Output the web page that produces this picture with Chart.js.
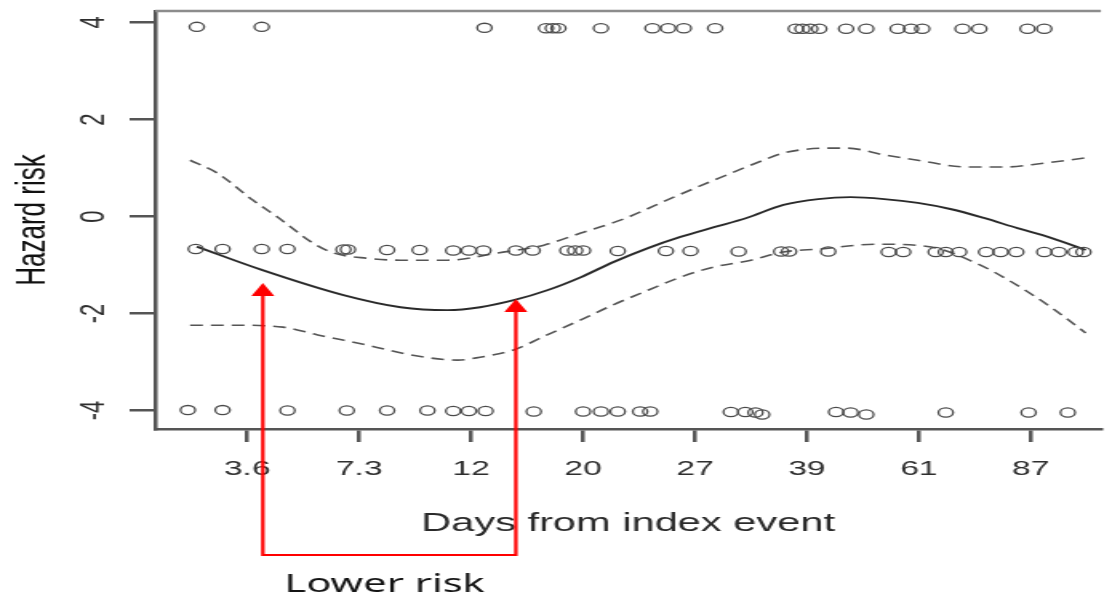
<!DOCTYPE html>
<html>
<head>
<meta charset="utf-8">
<title>Hazard risk by days from index event</title>
<script src="https://cdn.jsdelivr.net/npm/chart.js@4.4.0/dist/chart.umd.min.js"></script>
<style>
  html, body { margin: 0; padding: 0; background: #fff; overflow: hidden; }
  /* the source plot is stretched sideways, so draw it narrow and widen it */
  #wrap { width: 694px; height: 600px; transform: scaleX(1.6); transform-origin: 0 0; }
</style>
</head>
<body>
<div id="wrap"><canvas id="chart"></canvas></div>
<script>
// x axis is in tick-rank units: tick i sits at position i
const tickPositions = [1, 2, 3, 4, 5, 6, 7, 8];
const tickLabels = ['3.6', '7.3', '12', '20', '27', '39', '61', '87'];
const yTicks = [-4, -2, 0, 2, 4];

// observed events, three rows
const highX = [0.55, 1.13, 3.12, 3.67, 3.73, 3.78, 4.16, 4.62, 4.76, 4.90, 5.18, 5.90, 5.96, 6.03, 6.11, 6.35, 6.53, 6.81, 6.93, 7.03, 7.39, 7.54, 7.97, 8.12];
const highY = [3.91, 3.91, 3.89, 3.88, 3.88, 3.88, 3.88, 3.88, 3.88, 3.88, 3.88, 3.87, 3.87, 3.87, 3.87, 3.87, 3.87, 3.87, 3.87, 3.87, 3.87, 3.87, 3.87, 3.87];

const midX = [0.54, 0.78, 1.13, 1.36, 1.86, 1.90, 2.25, 2.54, 2.84, 2.98, 3.11, 3.40, 3.55, 3.86, 3.93, 4.00, 4.31, 4.74, 4.96, 5.39, 5.77, 5.84, 6.19, 6.73, 6.86, 7.15, 7.24, 7.36, 7.60, 7.73, 7.87, 8.12, 8.25, 8.40, 8.47];
const midY = [-0.67, -0.67, -0.67, -0.67, -0.68, -0.68, -0.69, -0.69, -0.70, -0.70, -0.70, -0.70, -0.70, -0.70, -0.70, -0.70, -0.71, -0.71, -0.71, -0.72, -0.72, -0.72, -0.72, -0.73, -0.73, -0.73, -0.73, -0.73, -0.73, -0.73, -0.73, -0.73, -0.73, -0.73, -0.73];

const lowX = [0.47, 0.78, 1.36, 1.89, 2.25, 2.61, 2.84, 2.98, 3.13, 3.56, 4.00, 4.16, 4.31, 4.51, 4.60, 5.32, 5.45, 5.54, 5.60, 6.26, 6.39, 6.53, 7.24, 7.98, 8.33];
const lowY = [-3.99, -3.99, -4.00, -4.00, -4.00, -4.00, -4.01, -4.01, -4.01, -4.02, -4.02, -4.02, -4.02, -4.02, -4.02, -4.03, -4.03, -4.04, -4.08, -4.03, -4.04, -4.08, -4.04, -4.04, -4.04];

// smooth fit and its confidence band
const fitX = [0.55, 1.13, 1.86, 2.37, 2.79, 3.08, 3.39, 3.68, 3.98, 4.27, 4.58, 4.87, 5.17, 5.46, 5.79, 6.10, 6.39, 6.69, 6.99, 7.29, 7.58, 7.88, 8.18, 8.49];
const fitY = [-0.62, -1.10, -1.62, -1.87, -1.93, -1.87, -1.72, -1.52, -1.25, -0.94, -0.65, -0.42, -0.22, -0.03, 0.24, 0.36, 0.40, 0.36, 0.28, 0.15, -0.03, -0.24, -0.44, -0.69];

const upperX = [0.49, 0.73, 1.05, 1.27, 1.59, 1.77, 2.07, 2.37, 2.79, 3.24, 3.65, 3.98, 4.34, 4.81, 5.17, 5.61, 5.79, 6.19, 6.36, 6.69, 6.99, 7.44, 7.76, 8.12, 8.49];
const upperY = [1.16, 0.90, 0.34, -0.01, -0.55, -0.75, -0.86, -0.90, -0.90, -0.75, -0.59, -0.34, -0.07, 0.40, 0.75, 1.16, 1.31, 1.41, 1.41, 1.27, 1.16, 1.02, 1.02, 1.10, 1.21];

const lowerX = [0.49, 0.88, 1.32, 1.63, 2.07, 2.48, 2.88, 3.08, 3.38, 3.68, 3.98, 4.27, 4.58, 4.87, 5.17, 5.50, 5.79, 6.12, 6.61, 7.11, 7.51, 7.80, 8.18, 8.49];
const lowerY = [-2.24, -2.24, -2.28, -2.44, -2.65, -2.86, -2.96, -2.90, -2.75, -2.44, -2.13, -1.82, -1.52, -1.25, -1.04, -0.90, -0.73, -0.67, -0.57, -0.63, -0.96, -1.31, -1.87, -2.40];

// red "Lower risk" bracket: arrow positions and tip heights in data units
const arrowX = [1.14, 3.40];
const arrowTipY = [-1.37, -1.70];
const noteText = 'Lower risk';

const pts = (xs, ys) => xs.map((x, i) => ({ x, y: ys[i] }));

const eventStyle = {
  showLine: false,
  pointStyle: 'circle',
  pointRadius: 4.6,
  pointBorderWidth: 1.3,
  pointBorderColor: '#4a4a4a',
  pointBackgroundColor: 'rgba(255,255,255,0)',
};

const curveStyle = (color, width, dash) => ({
  showLine: true,
  pointRadius: 0,
  borderColor: color,
  borderWidth: width,
  borderDash: dash,
  cubicInterpolationMode: 'monotone',
});

const frameAndNotes = {
  id: 'frameAndNotes',
  beforeDatasetsDraw(chart) {
    const { ctx, chartArea } = chart;
    ctx.save();
    ctx.strokeStyle = '#8c8c8c';
    ctx.lineWidth = 2.5;
    ctx.beginPath();
    ctx.moveTo(chartArea.left, chartArea.top);
    ctx.lineTo(chartArea.right, chartArea.top);
    ctx.stroke();
    ctx.restore();
  },
  afterDraw(chart) {
    const { ctx, chartArea, scales: { x, y } } = chart;
    const xs = arrowX.map(v => x.getPixelForValue(v));
    const tips = arrowTipY.map(v => y.getPixelForValue(v));
    const baseY = chartArea.bottom + 126;
    const headLen = 13;
    const headHalf = 7.2;

    ctx.save();
    ctx.strokeStyle = '#ff0000';
    ctx.fillStyle = '#ff0000';
    ctx.lineWidth = 2.2;
    ctx.beginPath();
    ctx.moveTo(xs[0], tips[0] + headLen);
    ctx.lineTo(xs[0], baseY);
    ctx.lineTo(xs[1], baseY);
    ctx.lineTo(xs[1], tips[1] + headLen);
    ctx.stroke();
    xs.forEach((px, i) => {
      ctx.beginPath();
      ctx.moveTo(px, tips[i]);
      ctx.lineTo(px - headHalf, tips[i] + headLen);
      ctx.lineTo(px + headHalf, tips[i] + headLen);
      ctx.closePath();
      ctx.fill();
    });

    ctx.fillStyle = '#141414';
    ctx.font = '26px "Noto Sans", "Open Sans", sans-serif';
    ctx.textAlign = 'center';
    ctx.textBaseline = 'middle';
    ctx.fillText(noteText, (xs[0] + xs[1]) / 2 - 3, baseY + 30);
    ctx.restore();
  },
};

const FONT = '"Liberation Sans", Arial, sans-serif';

// keep the plot box where the source has it, whatever the label sizes are
const noEdgePadding = scale => {
  scale.paddingTop = 0;
  scale.paddingBottom = 0;
  scale.paddingLeft = 0;
  scale.paddingRight = 0;
};

new Chart(document.getElementById('chart'), {
  type: 'scatter',
  data: {
    datasets: [
      { label: 'events high', data: pts(highX, highY), ...eventStyle },
      { label: 'events mid', data: pts(midX, midY), ...eventStyle },
      { label: 'events low', data: pts(lowX, lowY), ...eventStyle },
      { label: 'fit', data: pts(fitX, fitY), ...curveStyle('#2a2a2a', 1.9, []) },
      { label: 'upper', data: pts(upperX, upperY), ...curveStyle('#555', 1.6, [8, 5]) },
      { label: 'lower', data: pts(lowerX, lowerY), ...curveStyle('#555', 1.6, [8, 5]) },
    ],
  },
  options: {
    responsive: true,
    maintainAspectRatio: false,
    animation: false,
    layout: { padding: { top: 11, right: 0, bottom: 0, left: 0 } },
    plugins: { legend: { display: false }, tooltip: { enabled: false } },
    scales: {
      x: {
        type: 'linear',
        min: 0.178,
        max: 8.626,
        afterFit: scale => { scale.height = 171; noEdgePadding(scale); },
        afterBuildTicks: scale => { scale.ticks = tickPositions.map(v => ({ value: v })); },
        border: { display: true, color: '#555', width: 2.5 },
        grid: { drawOnChartArea: false, drawTicks: true, tickLength: 13, color: '#555', lineWidth: 2.5 },
        ticks: {
          autoSkip: false,
          maxRotation: 0,
          padding: 15,
          color: '#2e2e2e',
          font: { family: FONT, size: 21 },
          callback: (v, i) => tickLabels[i],
        },
        title: {
          display: true,
          text: 'Days from index event',
          color: '#2a2a2a',
          font: { family: FONT, size: 26 },
          padding: { top: 0, bottom: 61 },
        },
      },
      y: {
        type: 'linear',
        min: -4.38,
        max: 4.237,
        afterFit: scale => { scale.width = 97; noEdgePadding(scale); },
        afterBuildTicks: scale => { scale.ticks = yTicks.map(v => ({ value: v })); },
        border: { display: true, color: '#555', width: 2.5 },
        grid: { drawOnChartArea: false, drawTicks: true, tickLength: 16, color: '#555', lineWidth: 2.5 },
        ticks: {
          minRotation: 90,
          maxRotation: 90,
          crossAlign: 'center',
          padding: 12,
          color: '#2e2e2e',
          font: { family: FONT, size: 22 },
        },
        title: {
          display: true,
          text: 'Hazard risk',
          color: '#111',
          font: { family: FONT, size: 26 },
          padding: { top: 5, bottom: 0 },
        },
      },
    },
  },
  plugins: [frameAndNotes],
});
</script>
</body>
</html>
